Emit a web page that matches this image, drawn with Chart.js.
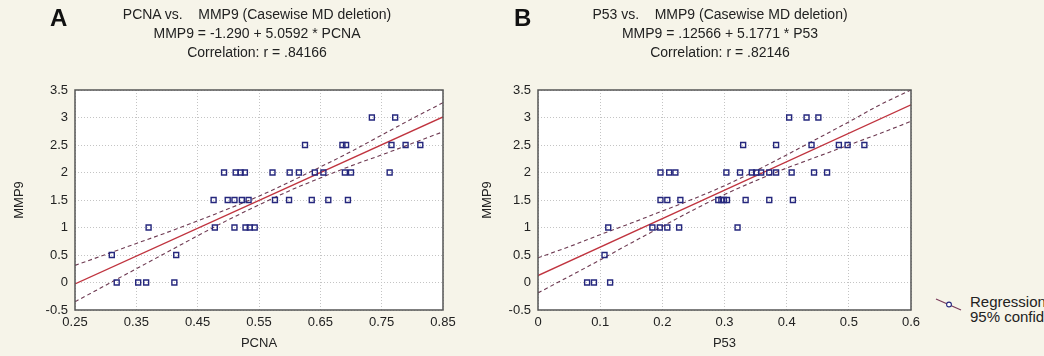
<!DOCTYPE html>
<html>
<head>
<meta charset="utf-8">
<script src="https://cdn.jsdelivr.net/npm/chart.js@4.4.1/dist/chart.umd.min.js"></script>
<style>
  html, body { margin: 0; padding: 0; background: #f6f4e9; }
  #wrap { position: relative; width: 1044px; height: 356px; overflow: hidden;
          font-family: 'Liberation Sans', Arial, sans-serif; color: #222; }
  canvas { position: absolute; top: 0; }
  .letra { position: absolute; top: 6px; font-weight: bold; font-size: 24px; line-height: 24px; color: #111; }
  .titulo { position: absolute; top: 5px; width: 440px; text-align: center; font-size: 14px;
            line-height: 19px; white-space: pre; color: #222; }
  .legenda { position: absolute; left: 934px; top: 294px; font-size: 15px; line-height: 15px; color: #222; }
  .legenda svg { position: absolute; left: 0; top: 2px; }
  .legenda div { margin-left: 36px; white-space: nowrap; }
</style>
</head>
<body>
<div id="wrap">
  <canvas id="graficoA" width="470" height="356" style="left:0px"></canvas>
  <canvas id="graficoB" width="460" height="356" style="left:470px"></canvas>

  <div class="letra" style="left:50px">A</div>
  <div class="titulo" style="left:37px">PCNA vs.    MMP9 (Casewise MD deletion)
MMP9 = -1.290 + 5.0592 * PCNA
Correlation: r = .84166</div>

  <div class="letra" style="left:514px">B</div>
  <div class="titulo" style="left:500px">P53 vs.    MMP9 (Casewise MD deletion)
MMP9 = .12566 + 5.1771 * P53
Correlation: r = .82146</div>

  <div class="legenda"><svg width="30" height="16"><line x1="2" y1="3" x2="27" y2="14" stroke="#7a3a5a" stroke-width="1.2"/><circle cx="15" cy="8.5" r="2.4" fill="#fff" stroke="#25277d" stroke-width="1.1"/></svg><div>Regression</div><div>95% confid.</div></div>
</div>

<script>
// ---- dados do painel A (PCNA x MMP9) ----
const pcna = [0.310, 0.318, 0.353, 0.366, 0.370, 0.412, 0.415,
  0.478, 0.510, 0.528, 0.535, 0.543,
  0.476, 0.499, 0.510, 0.522, 0.533, 0.576, 0.599, 0.636, 0.663, 0.695,
  0.493, 0.512, 0.520, 0.527, 0.572, 0.600, 0.615, 0.641, 0.655, 0.690, 0.700, 0.763,
  0.625, 0.686, 0.692, 0.766, 0.789, 0.813,
  0.734, 0.772];
const mmp9A = [0.5, 0, 0, 0, 1, 0, 0.5,
  1, 1, 1, 1, 1,
  1.5, 1.5, 1.5, 1.5, 1.5, 1.5, 1.5, 1.5, 1.5, 1.5,
  2, 2, 2, 2, 2, 2, 2, 2, 2, 2, 2, 2,
  2.5, 2.5, 2.5, 2.5, 2.5, 2.5,
  3, 3];
const regXA = [0.25, 0.85];
const regYA = [-0.025, 3.010];
const bandaXA = [0.25, 0.30, 0.35, 0.40, 0.45, 0.50, 0.55, 0.60, 0.65, 0.70, 0.75, 0.80, 0.85];
const bandaSupA = [0.31, 0.51, 0.71, 0.91, 1.12, 1.34, 1.57, 1.83, 2.10, 2.38, 2.68, 2.98, 3.27];
const bandaInfA = [-0.35, -0.05, 0.25, 0.55, 0.85, 1.14, 1.41, 1.67, 1.90, 2.12, 2.32, 2.53, 2.74];
const ticksXA = [0.25, 0.35, 0.45, 0.55, 0.65, 0.75, 0.85];
const rotulosXA = ['0.25', '0.35', '0.45', '0.55', '0.65', '0.75', '0.85'];

// ---- dados do painel B (P53 x MMP9) ----
const p53 = [0.079, 0.090, 0.116,
  0.107,
  0.113, 0.184, 0.196, 0.208, 0.227, 0.321,
  0.197, 0.208, 0.229, 0.290, 0.295, 0.299, 0.304, 0.334, 0.372, 0.410,
  0.197, 0.211, 0.221, 0.303, 0.325, 0.344, 0.351, 0.359, 0.372, 0.383, 0.408, 0.444, 0.465,
  0.330, 0.383, 0.440, 0.484, 0.498, 0.525,
  0.404, 0.432, 0.451];
const mmp9B = [0, 0, 0,
  0.5,
  1, 1, 1, 1, 1, 1,
  1.5, 1.5, 1.5, 1.5, 1.5, 1.5, 1.5, 1.5, 1.5, 1.5,
  2, 2, 2, 2, 2, 2, 2, 2, 2, 2, 2, 2, 2,
  2.5, 2.5, 2.5, 2.5, 2.5, 2.5,
  3, 3, 3];
const regXB = [0, 0.6];
const regYB = [0.126, 3.232];
const bandaXB = [0, 0.05, 0.10, 0.15, 0.20, 0.25, 0.30, 0.35, 0.40, 0.45, 0.50, 0.55, 0.60];
const bandaSupB = [0.45, 0.65, 0.87, 1.08, 1.30, 1.52, 1.76, 2.03, 2.32, 2.62, 2.92, 3.23, 3.50];
const bandaInfB = [-0.19, 0.11, 0.41, 0.72, 1.02, 1.32, 1.60, 1.85, 2.08, 2.29, 2.50, 2.71, 2.93];
const ticksXB = [0, 0.1, 0.2, 0.3, 0.4, 0.5, 0.6];
const rotulosXB = ['0', '0.1', '0.2', '0.3', '0.4', '0.5', '0.6'];

// eixo Y comum
const ticksY = [-0.5, 0, 0.5, 1, 1.5, 2, 2.5, 3, 3.5];
const rotulosY = ['-0.5', '0', '0.5', '1', '1.5', '2', '2.5', '3', '3.5'];

const fonte = "'Liberation Sans', Arial, sans-serif";

// fundo branco da area do grafico + moldura
const moldura = {
  id: 'moldura',
  beforeDraw(chart) {
    const { ctx, chartArea: a } = chart;
    ctx.save();
    ctx.fillStyle = '#ffffff';
    ctx.fillRect(a.left, a.top, a.width, a.height);
    ctx.restore();
  },
  afterDraw(chart) {
    const { ctx, chartArea: a } = chart;
    ctx.save();
    ctx.strokeStyle = '#555555';
    ctx.lineWidth = 1.5;
    ctx.strokeRect(a.left, a.top, a.width, a.height);
    ctx.restore();
  }
};

const juntar = (xs, ys) => xs.map((x, i) => ({ x: x, y: ys[i] }));

function criarGrafico(id, cfg) {
  new Chart(document.getElementById(id), {
    type: 'scatter',
    data: {
      datasets: [
        {
          data: juntar(cfg.px, cfg.py),
          pointStyle: 'rect',
          pointRadius: 3.5,
          pointBorderWidth: 1.4,
          pointBorderColor: '#25277d',
          pointBackgroundColor: 'rgba(255,255,255,0)'
        },
        {
          data: juntar(cfg.regX, cfg.regY),
          showLine: true,
          pointRadius: 0,
          borderColor: '#c0343f',
          borderWidth: 1.3
        },
        {
          data: juntar(cfg.bx, cfg.bs),
          showLine: true,
          pointRadius: 0,
          borderColor: '#6e3a52',
          borderWidth: 1.1,
          borderDash: [4, 3],
          cubicInterpolationMode: 'monotone'
        },
        {
          data: juntar(cfg.bx, cfg.bi),
          showLine: true,
          pointRadius: 0,
          borderColor: '#6e3a52',
          borderWidth: 1.1,
          borderDash: [4, 3],
          cubicInterpolationMode: 'monotone'
        }
      ]
    },
    options: {
      responsive: false,
      animation: false,
      devicePixelRatio: 1,
      layout: { padding: { top: 90, right: cfg.padDir, bottom: 0, left: 0 } },
      plugins: { legend: { display: false }, tooltip: { enabled: false } },
      scales: {
        x: {
          type: 'linear',
          min: cfg.ticksX[0],
          max: cfg.ticksX[cfg.ticksX.length - 1],
          afterFit: s => { s.height = 46; },
          afterBuildTicks: s => { s.ticks = cfg.ticksX.map(v => ({ value: v })); },
          ticks: {
            padding: 5,
            color: '#222',
            font: { family: fonte, size: 13 },
            maxRotation: 0,
            autoSkip: false,
            callback: (v, i) => cfg.rotulosX[i]
          },
          grid: { color: '#c4c4c4', drawTicks: false },
          border: { display: false, dash: [1, 2] },
          title: {
            display: true,
            text: cfg.tituloX,
            color: '#222',
            font: { family: fonte, size: 13 },
            padding: { top: 0, bottom: 5 }
          }
        },
        y: {
          type: 'linear',
          min: -0.5,
          max: 3.5,
          afterFit: s => { s.width = cfg.larguraY; },
          afterBuildTicks: s => { s.ticks = ticksY.map(v => ({ value: v })); },
          ticks: {
            padding: 7,
            color: '#222',
            font: { family: fonte, size: 13 },
            autoSkip: false,
            callback: (v, i) => rotulosY[i]
          },
          grid: { color: '#c4c4c4', drawTicks: false },
          border: { display: false, dash: [1, 2] },
          title: {
            display: true,
            text: 'MMP9',
            color: '#222',
            font: { family: fonte, size: 13 },
            padding: { top: cfg.padTituloY, bottom: 0 }
          }
        }
      }
    },
    plugins: [moldura]
  });
}

criarGrafico('graficoA', {
  px: pcna, py: mmp9A,
  regX: regXA, regY: regYA,
  bx: bandaXA, bs: bandaSupA, bi: bandaInfA,
  ticksX: ticksXA, rotulosX: rotulosXA,
  tituloX: 'PCNA',
  larguraY: 75, padTituloY: 12, padDir: 27
});

criarGrafico('graficoB', {
  px: p53, py: mmp9B,
  regX: regXB, regY: regYB,
  bx: bandaXB, bs: bandaSupB, bi: bandaInfB,
  ticksX: ticksXB, rotulosX: rotulosXB,
  tituloX: 'P53',
  larguraY: 68, padTituloY: 10, padDir: 19
});
</script>
</body>
</html>
